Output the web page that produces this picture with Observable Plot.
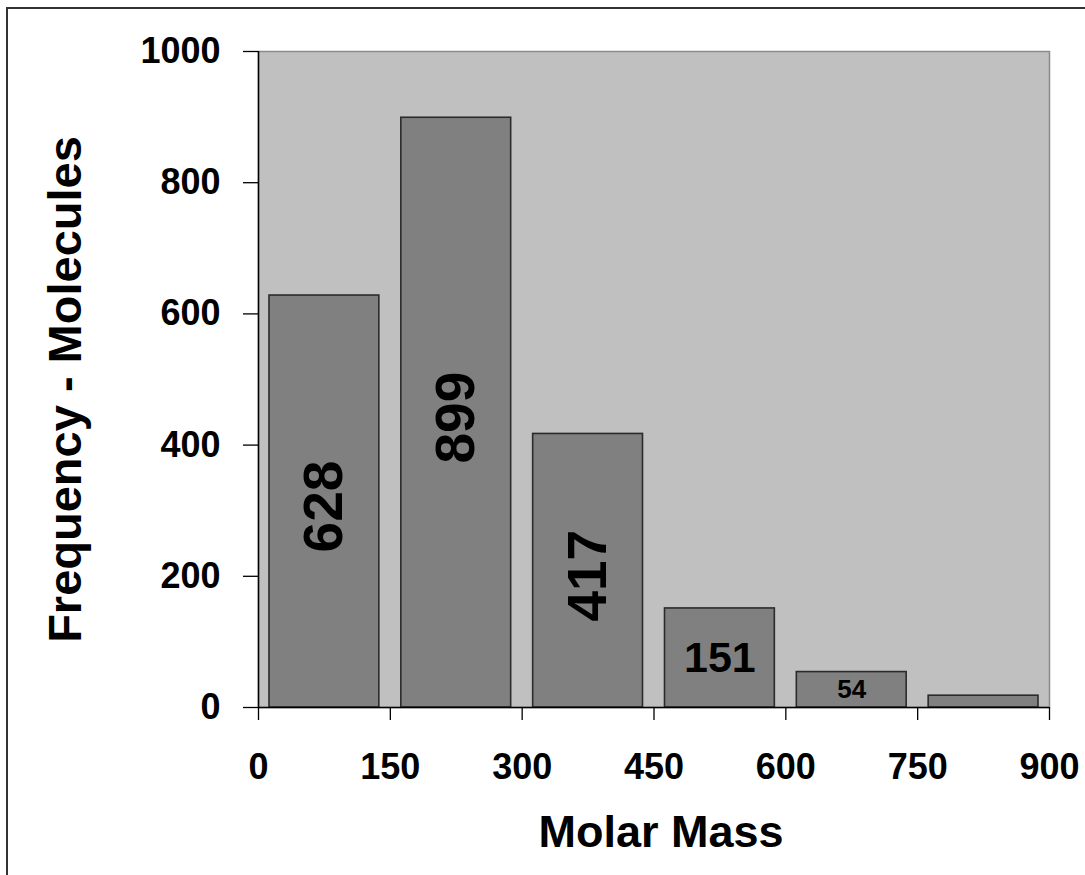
<!DOCTYPE html>
<html><head><meta charset="utf-8">
<script src="https://cdn.jsdelivr.net/npm/d3@7"></script>
<script src="https://cdn.jsdelivr.net/npm/@observablehq/plot@0.6"></script>
<style>
html,body{margin:0;padding:0;background:#fff;}
#wrap{position:relative;width:1085px;height:875px;overflow:hidden;}
#border{position:absolute;left:6px;top:7px;width:1200px;height:1000px;border-left:2px solid #333;border-top:2px solid #333;pointer-events:none;}
</style></head>
<body><div id="wrap"><div id="chart"></div><div id="border"></div></div>
<script>
const binStarts = [0, 150, 300, 450, 600, 750];
const binEnds = [150, 300, 450, 600, 750, 900];
const counts = [628, 899, 417, 151, 54, 18];
const xTicks = [0, 150, 300, 450, 600, 750, 900];
const yTicks = [0, 200, 400, 600, 800, 1000];
const xTitle = "Molar Mass";
const yTitle = "Frequency - Molecules";

const data = counts.map((c, i) => ({lo: binStarts[i], hi: binEnds[i], count: c}));
const labeled = data.filter(d => d.count > 30);

const chart = Plot.plot({
  width: 1085,
  height: 875,
  marginLeft: 258,
  marginRight: 36,
  marginTop: 51,
  marginBottom: 168,
  style: {fontFamily: "'Liberation Sans', Arial, sans-serif", fontWeight: "bold", color: "#000", background: "transparent"},
  x: {domain: [0, 900]},
  y: {domain: [0, 1000]},
  marks: [
    Plot.frame({fill: "#c0c0c0", stroke: "#8a8a8a", strokeWidth: 1.5}),
    Plot.rectY(data, {x1: "lo", x2: "hi", y1: 0, y2: "count", insetLeft: 11, insetRight: 11,
      fill: "#808080", stroke: "#2b2b2b", strokeWidth: 1.6}),
    Plot.ruleX([0], {stroke: "#000", strokeWidth: 1.5}),
    Plot.ruleY([0], {stroke: "#000", strokeWidth: 1.5}),
    Plot.axisX({ticks: xTicks, tickFormat: d => String(d), tickSize: 13, tickPadding: 33, fontSize: 36, label: null, stroke: "#000", strokeWidth: 1.3}),
    Plot.axisY({ticks: yTicks, tickFormat: d => String(d), tickSize: 15, tickPadding: 23, fontSize: 36, label: null, stroke: "#000", strokeWidth: 1.3}),
    Plot.text(labeled.filter(d => d.count > 300), {x: d => (d.lo + d.hi) / 2, y: d => d.count / 2,
      text: d => String(d.count), rotate: -90, dy: 5, fontSize: 55, fill: "#000", lineAnchor: "middle"}),
    Plot.text(labeled.filter(d => d.count <= 300), {x: d => (d.lo + d.hi) / 2, y: d => d.count / 2,
      text: d => String(d.count), fontSize: d => d.count > 100 ? 43 : 26, fill: "#000", lineAnchor: "middle"}),
    Plot.text([xTitle], {frameAnchor: "bottom", text: d => d, dx: 7, dy: 125, fontSize: 45, fill: "#000", lineAnchor: "middle"}),
    Plot.text([yTitle], {frameAnchor: "left", text: d => d, rotate: -90, dx: -193, dy: 10, fontSize: 47, fill: "#000", textAnchor: "middle", lineAnchor: "middle"})
  ]
});
document.getElementById("chart").appendChild(chart);
</script>
</body></html>
